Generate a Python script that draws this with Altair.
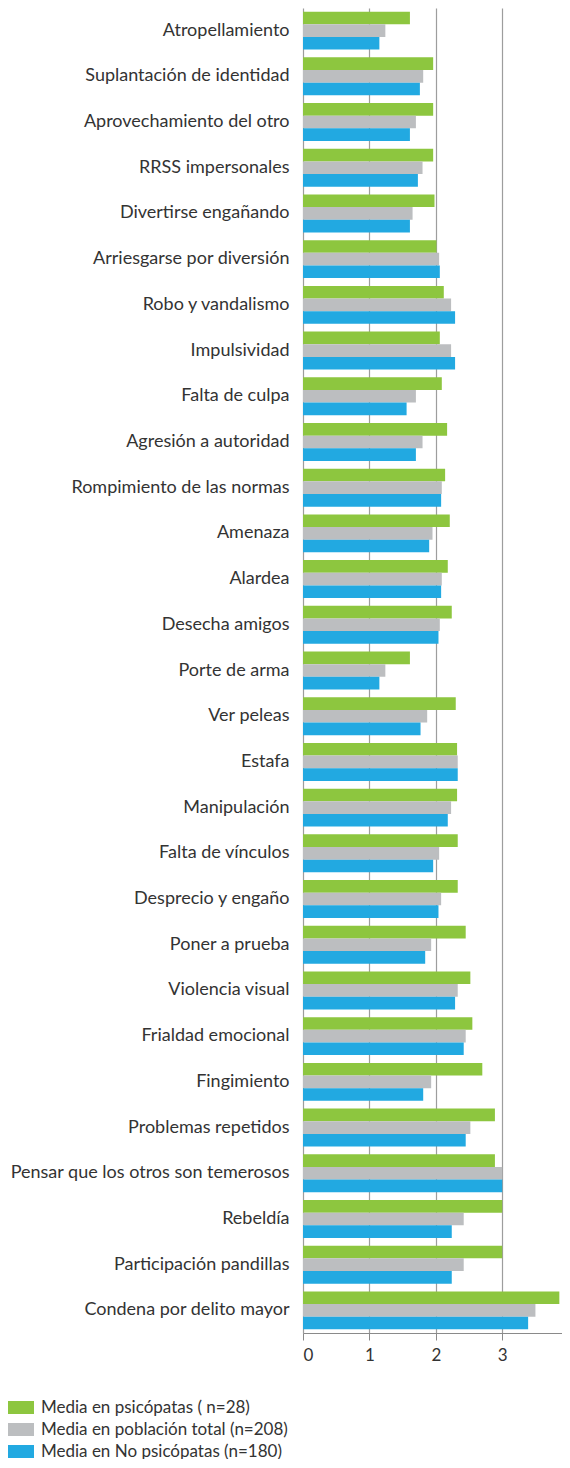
import altair as alt
import pandas as pd

categories = [
    "Atropellamiento", "Suplantación de identidad", "Aprovechamiento del otro",
    "RRSS impersonales", "Divertirse engañando", "Arriesgarse por diversión",
    "Robo y vandalismo", "Impulsividad", "Falta de culpa", "Agresión a autoridad",
    "Rompimiento de las normas", "Amenaza", "Alardea", "Desecha amigos",
    "Porte de arma", "Ver peleas", "Estafa", "Manipulación", "Falta de vínculos",
    "Desprecio y engaño", "Poner a prueba", "Violencia visual", "Frialdad emocional",
    "Fingimiento", "Problemas repetidos", "Pensar que los otros son temerosos",
    "Rebeldía", "Participación pandillas", "Condena por delito mayor",
]

psicopatas = [1.61, 1.96, 1.96, 1.96, 1.98, 2.01, 2.12, 2.06, 2.09, 2.17,
              2.14, 2.21, 2.18, 2.24, 1.61, 2.30, 2.32, 2.32, 2.33, 2.33,
              2.45, 2.52, 2.55, 2.70, 2.89, 2.89, 3.00, 3.00, 3.86]
poblacion_total = [1.24, 1.81, 1.70, 1.80, 1.65, 2.05, 2.23, 2.23, 1.70, 1.80,
                   2.09, 1.95, 2.09, 2.06, 1.24, 1.87, 2.33, 2.23, 2.05, 2.08,
                   1.93, 2.33, 2.45, 1.93, 2.52, 3.00, 2.42, 2.42, 3.50]
no_psicopatas = [1.15, 1.76, 1.61, 1.73, 1.61, 2.06, 2.29, 2.29, 1.56, 1.70,
                 2.08, 1.90, 2.08, 2.04, 1.15, 1.77, 2.33, 2.18, 1.96, 2.04,
                 1.84, 2.29, 2.42, 1.81, 2.45, 3.00, 2.24, 2.24, 3.39]

series_names = [
    "Media en psicópatas ( n=28)",
    "Media en población total (n=208)",
    "Media en No psicópatas (n=180)",
]
series_colors = ["#8DC63F", "#BCBEC0", "#22A9E1"]
tick_values = [0, 1, 2, 3]

rows = []
for name, vals in zip(series_names, [psicopatas, poblacion_total, no_psicopatas]):
    for c, v in zip(categories, vals):
        rows.append({"cat": c, "series": name, "value": v})
df = pd.DataFrame(rows)

FONT = "Lato"

chart = alt.Chart(df).mark_bar().encode(
    y=alt.Y("cat:N", sort=categories,
            scale=alt.Scale(paddingInner=0.17, paddingOuter=0.08),
            axis=alt.Axis(title=None, domain=False, ticks=False, labelFontSize=18,
                          labelPadding=14, labelColor="#333333", labelFont=FONT,
                          labelLimit=400)),
    yOffset=alt.YOffset("series:N", sort=series_names),
    x=alt.X("value:Q", scale=alt.Scale(domain=[0, 3.9], nice=False),
            axis=alt.Axis(title=None, values=tick_values, grid=True, gridColor="#9d9d9d",
                          gridWidth=1.2, domainColor="#8a8a8a", tickColor="#8a8a8a",
                          tickSize=7, labelFontSize=17, labelFont=FONT,
                          labelColor="#333333", labelPadding=7)),
    color=alt.Color("series:N", sort=series_names,
                    scale=alt.Scale(domain=series_names, range=series_colors),
                    legend=alt.Legend(title=None, orient="none", legendX=-290.5, legendY=1391,
                                      symbolType="M-2,-1L2,-1L2,1L-2,1Z", symbolSize=169,
                                      symbolStrokeWidth=0, labelFontSize=17, labelFont=FONT,
                                      labelColor="#333333", labelOffset=11.5, rowPadding=4,
                                      labelLimit=400)),
).properties(
    width=259, height=1325,
    autosize=alt.AutoSizeParams(type="none"),
    padding={"left": 295, "top": 0, "right": 0, "bottom": 126},
).configure_view(stroke=None)

chart.save("out.html", embed_options={"renderer": "svg", "actions": False})
